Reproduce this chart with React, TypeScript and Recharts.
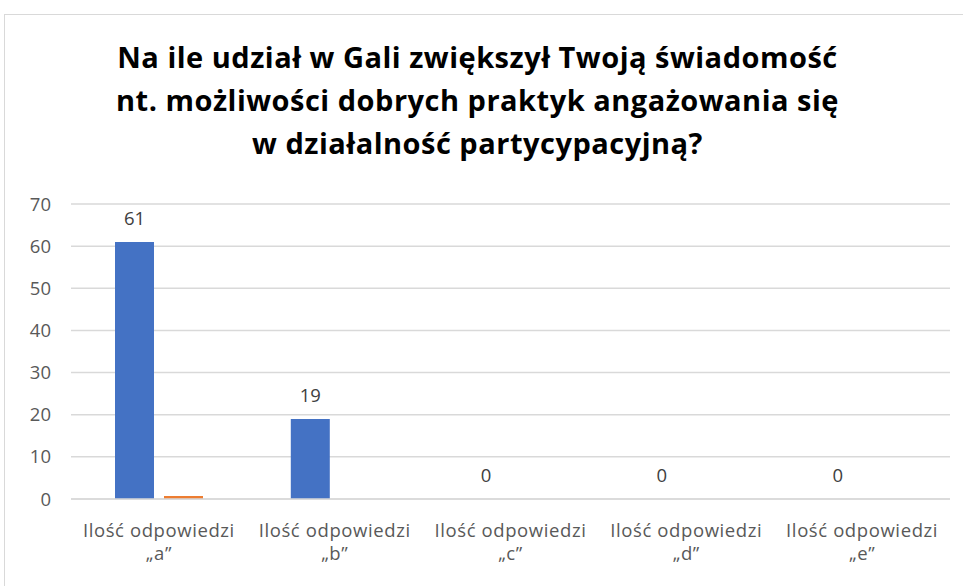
import { BarChart, Bar, XAxis, YAxis, CartesianGrid, LabelList } from "recharts";

const categories = ["„a”", "„b”", "„c”", "„d”", "„e”"];
const seriesA = [61, 19, 0, 0, 0];
const seriesB = [0.7, null, null, null, null];
const yTicks = [0, 10, 20, 30, 40, 50, 60, 70];
const titleLines = [
  "Na ile udział w Gali zwiększył Twoją świadomość",
  "nt. możliwości dobrych praktyk angażowania się",
  "w działalność partycypacyjną?",
];

const data = categories.map((c, i) => ({ name: c, a: seriesA[i], b: seriesB[i] }));

const FONT = "'Open Sans', 'Noto Sans', sans-serif";

function CategoryTick(props: any) {
  const { x, y, payload } = props;
  return (
    <text x={x} y={y} textAnchor="middle" fill="#595959" fontSize={18.5} fontFamily={FONT} letterSpacing={0.6}>
      <tspan x={x} dy={30}>Ilość odpowiedzi</tspan>
      <tspan x={x} dy={23}>{payload.value}</tspan>
    </text>
  );
}

export default function App() {
  return (
    <div style={{ position: "absolute", left: 0, top: 0, width: 963, height: 586, background: "#fff", overflow: "hidden" }}>
      <div
        style={{
          position: "absolute",
          left: 4,
          top: 14,
          width: 980,
          height: 600,
          borderLeft: "1px solid #d9d9d9",
          borderTop: "1px solid #d9d9d9",
        }}
      />
      <div
        style={{
          position: "absolute",
          left: 0,
          top: 35,
          width: 955,
          textAlign: "center",
          fontFamily: FONT,
          fontWeight: 700,
          fontSize: 29,
          letterSpacing: 0.5,
          lineHeight: "43px",
          color: "#000",
        }}
      >
        {titleLines.map((t) => (
          <div key={t}>{t}</div>
        ))}
      </div>
      <div style={{ position: "absolute", left: 0, top: 0 }}>
        <BarChart
          width={963}
          height={586}
          data={data}
          margin={{ top: 204, right: 13, bottom: 32, left: 0 }}
          barGap={10}
          barSize={39}
        >
          <CartesianGrid vertical={false} stroke="#d9d9d9" strokeWidth={1.5} />
          <XAxis
            dataKey="name"
            axisLine={{ stroke: "#d9d9d9", strokeWidth: 1.5 }}
            tickLine={false}
            height={55}
            interval={0}
            tick={<CategoryTick />}
          />
          <YAxis
            width={71}
            domain={[0, 70]}
            ticks={yTicks}
            axisLine={false}
            tickLine={false}
            tickMargin={14}
            tick={{ fill: "#595959", fontSize: 18.5, fontFamily: FONT }}
          />
          <Bar dataKey="a" fill="#4472C4" minPointSize={0.01} isAnimationActive={false}>
            <LabelList dataKey="a" position="top" offset={17} fill="#404040" fontSize={18.5} fontFamily={FONT} />
          </Bar>
          <Bar dataKey="b" fill="#ED7D31" isAnimationActive={false} />
        </BarChart>
      </div>
    </div>
  );
}
